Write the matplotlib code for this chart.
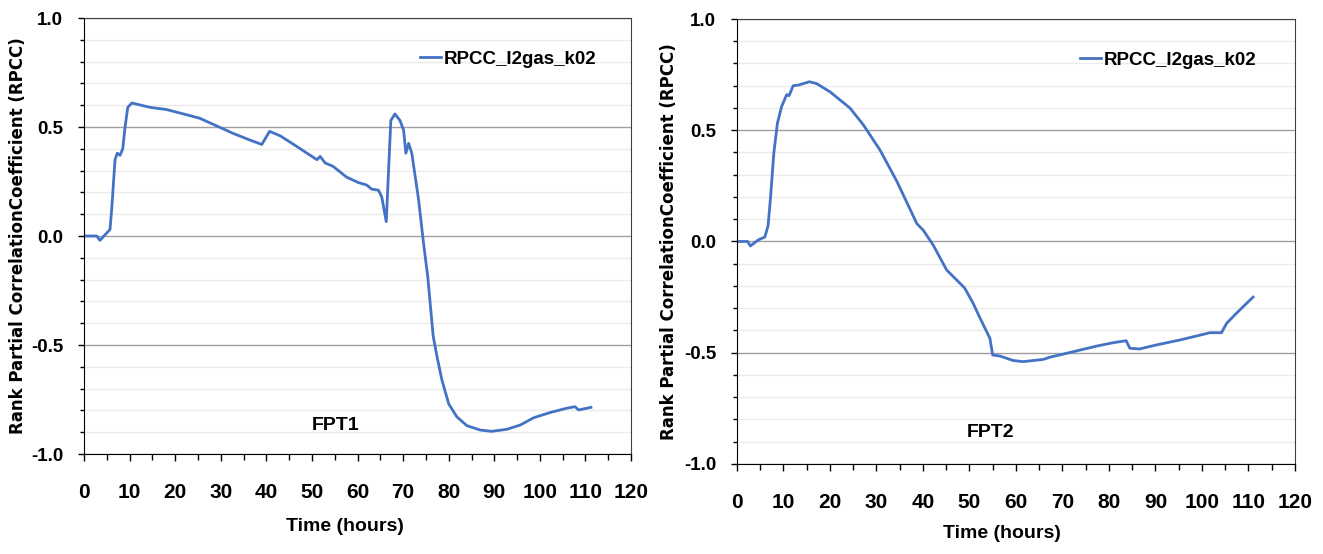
import matplotlib.pyplot as plt
from matplotlib.ticker import MultipleLocator, FixedLocator

# FPT1 (left panel)
fpt1_time = [0, 2.8, 3.5, 5.7, 6.1, 6.8, 7.3, 7.9, 8.5, 9.0, 9.6, 10.5, 14.5, 18.1,
             21.8, 25.4, 29.1, 32.8, 36.4, 39.0, 40.7, 43.0, 46.0, 48.9, 51.1, 51.8,
             52.9, 54.6, 57.6, 60.2, 62.0, 63.1, 64.6, 65.3, 66.3, 67.3, 68.2, 69.3,
             70.1, 70.6, 71.2, 71.9, 73.4, 74.4, 75.4, 76.6, 77.4, 78.5, 80.0, 81.8,
             84.0, 86.9, 89.4, 92.7, 95.7, 98.6, 102.2, 105.9, 107.7, 108.5, 111.2]
fpt1_rpcc = [0, 0, -0.02, 0.03, 0.13, 0.35, 0.38, 0.37, 0.40, 0.50, 0.59, 0.61, 0.59, 0.58,
             0.56, 0.54, 0.505, 0.47, 0.44, 0.42, 0.48, 0.46, 0.42, 0.38, 0.35, 0.365,
             0.335, 0.32, 0.27, 0.245, 0.234, 0.215, 0.21, 0.18, 0.066, 0.53, 0.56, 0.53,
             0.486, 0.38, 0.425, 0.38, 0.165, -0.02, -0.187, -0.46, -0.55, -0.66, -0.77, -0.83,
             -0.87, -0.89, -0.896, -0.887, -0.867, -0.834, -0.81, -0.79, -0.783, -0.798, -0.786]

# FPT2 (right panel)
fpt2_time = [0, 2.3, 2.9, 4.6, 6.0, 6.7, 7.2, 7.95, 8.7, 9.6, 10.7, 11.2, 12.1, 13.2,
             15.6, 17.1, 20.0, 24.3, 27.2, 30.8, 34.4, 38.7, 40.1, 42.2, 45.1, 48.3,
             49.0, 50.8, 52.3, 54.4, 55.0, 56.6, 59.4, 61.6, 65.9, 67.3, 70.2, 73.8,
             77.4, 80.9, 83.7, 84.5, 86.6, 90.2, 95.2, 98.8, 101.7, 104.2, 105.3, 107.4,
             109.6, 111.0]
fpt2_rpcc = [0, 0, -0.02, 0.007, 0.02, 0.07, 0.19, 0.40, 0.53, 0.606, 0.66, 0.655, 0.70, 0.703,
             0.718, 0.71, 0.673, 0.60, 0.524, 0.41, 0.27, 0.08, 0.05, -0.016, -0.128, -0.195,
             -0.21, -0.278, -0.345, -0.435, -0.51, -0.515, -0.535, -0.54, -0.53, -0.52, -0.506, -0.488,
             -0.47, -0.455, -0.446, -0.48, -0.483, -0.465, -0.443, -0.425, -0.41, -0.41, -0.368, -0.323,
             -0.278, -0.25]

series_name = "RPCC_I2gas_k02"
y_ticks = [-1.0, -0.5, 0.0, 0.5, 1.0]
y_labels = ["-1.0", "-0.5", "0.0", "0.5", "1.0"]
x_ticks = list(range(0, 121, 10))

FONT = "Liberation Sans"
LINE_BLUE = "#4472C4"

fig = plt.figure(figsize=(13.23, 5.54), dpi=100)

panels = [
    # axes rect, data, tag, tag pos, legend anchor, xlabel coords, ylabel coords
    ([0.0635, 0.1805, 0.4135, 0.787], fpt1_time, fpt1_rpcc, "FPT1", (0.459, 0.066),
     (0.614, 0.906), (0.477, -0.147), (-0.105, 0.5)),
    ([0.557, 0.1625, 0.4218, 0.8032], fpt2_time, fpt2_rpcc, "FPT2", (0.455, 0.071),
     (0.615, 0.908), (0.475, -0.137), (-0.105, 0.5)),
]

for rect, t, r, tag, tag_xy, leg_xy, xl_xy, yl_xy in panels:
    ax = fig.add_axes(rect)
    ax.plot(t, r, color=LINE_BLUE, lw=2, label=series_name, solid_joinstyle="round")

    ax.set_xlim(0, 120)
    ax.set_ylim(-1, 1)
    ax.xaxis.set_major_locator(FixedLocator(x_ticks))
    ax.xaxis.set_minor_locator(MultipleLocator(5))
    ax.set_yticks(y_ticks)
    ax.set_yticklabels(y_labels)
    ax.yaxis.set_minor_locator(MultipleLocator(0.1))

    ax.grid(axis="y", which="major", color="#A0A0A0", lw=1)
    ax.grid(axis="y", which="minor", color="#EBEBEB", lw=1)
    ax.set_axisbelow(True)

    ax.tick_params(axis="x", which="major", direction="out", length=5, width=1,
                   pad=16, labelsize=15)
    ax.tick_params(axis="x", which="minor", direction="out", length=4.5, width=1)
    ax.tick_params(axis="y", which="major", direction="out", length=4, width=1,
                   pad=11, labelsize=13.5)
    ax.tick_params(axis="y", which="minor", direction="out", length=3, width=1)
    for lab in ax.get_xticklabels() + ax.get_yticklabels():
        lab.set_fontfamily(FONT)
        lab.set_fontweight("bold")

    for side in ["left", "bottom"]:
        ax.spines[side].set_color("black")
    for side in ["top", "right"]:
        ax.spines[side].set_color("#404040")

    ax.set_xlabel("Time (hours)", family=FONT, weight="bold", fontsize=14)
    ax.xaxis.set_label_coords(*xl_xy)
    ax.set_ylabel("Rank Partial CorrelationCoefficient (RPCC)", family="DejaVu Sans",
                  weight="bold", fontsize=12)
    ax.yaxis.set_label_coords(*yl_xy)

    ax.text(tag_xy[0], tag_xy[1], tag, transform=ax.transAxes, ha="center",
            va="center", family=FONT, weight="bold", fontsize=14)

    ax.legend(loc="center left", bbox_to_anchor=leg_xy, frameon=False,
              handlelength=1.1, handletextpad=0.15, borderpad=0, borderaxespad=0,
              prop={"family": FONT, "weight": "bold", "size": 13.5})

fig.savefig("out.png", dpi=100)
